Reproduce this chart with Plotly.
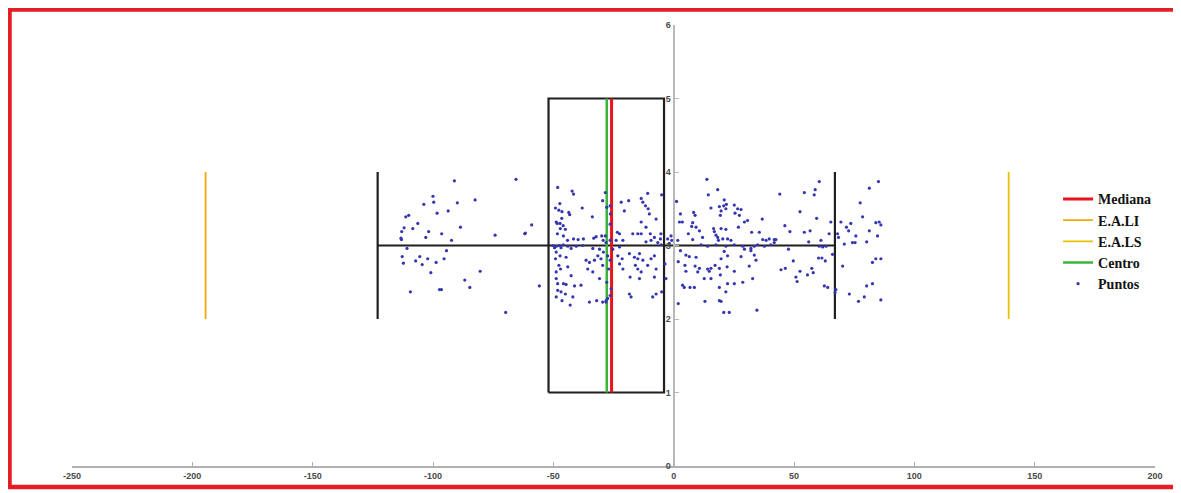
import plotly.graph_objects as go

# ---- summary statistics (data units) ----
box_left = -52.0      # Q1
box_right = -4.0      # Q3
box_bottom = 1.0
box_top = 5.0
whisker_low = -123.0
whisker_high = 67.0
whisker_y = 3.0
whisker_cap_low = 2.0
whisker_cap_high = 4.0
mediana = -25.8
centro = -27.8
eali = -194.5
eals = 139.2
fence_low = 2.0
fence_high = 4.0

# ---- points ----
puntos_x = [
    -91.1, -65.5, -100.0, -103.8, -99.7, -89.9, -82.5, -98.3, -93.7, -111.3, -110.1, -106.3,
    -112.0, -108.4, -113.0, -101.8, -88.6, -96.4, -103.0, -74.2, -61.9, -113.3, -113.1, -92.3,
    -110.8, -94.4, -112.8, -105.5, -112.3, -107.2, -104.5, -102.2, -98.7, -95.4, -100.9, -80.4,
    -86.8, -84.7, -109.4, -97.3, -96.5, -69.8,
    -59.0, -61.6, -55.8, -48.2, -42.2, -41.6, -47.3, -49.1, -47.7, -46.4, -43.6, -43.2, -38.0,
    -33.8, -48.8, -46.5, -48.4, -47.2, -45.9, -47.1, -45.0, -48.3, -45.8, -44.1, -41.6, -39.7,
    -37.5, -33.2, -32.2, -29.9, -29.3, -50.2, -49.5, -48.7, -47.5, -46.8, -45.9, -44.0, -42.6,
    -40.5, -37.8, -33.6, -30.8, -48.8, -47.2, -49.1, -47.7, -47.0, -48.8, -44.7, -44.0, -42.6,
    -36.4, -35.0, -35.7, -32.9, -33.6, -48.8, -48.2, -45.8, -44.7, -41.2, -38.5, -48.2, -46.8,
    -45.0, -41.9, -48.8, -46.4, -43.0, -35.0, -32.0, -29.5, -28.1, -30.8, -30.2, -29.5, -29.2,
    -31.5, -28.4, -29.5, -27.8, -26.4, -26.3, -26.4, -28.4, -28.1, -26.4, -25.3, -27.4, -26.4,
    -27.0, -27.8, -26.0, -26.4, -28.1, -27.4, -21.8, -18.7, -20.5, -23.4, -22.5, -23.9, -21.1,
    -22.5, -23.2, -21.4, -22.5, -21.1, -18.4, -16.3, -15.9, -18.1, -18.4, -17.7, -14.2, -13.5,
    -12.8, -11.7, -10.6, -10.8, -10.1, -7.3, -13.5, -11.5, -14.9, -17.0, -13.5, -9.7, -8.0,
    -11.5, -9.4, -6.6, -5.2, -14.2, -14.9, -12.8, -10.8, -9.4, -8.0, -7.3, -14.9, -13.5, -8.0,
    -7.3, -8.7,
    -5.0, -5.3, -5.5, -3.2, -3.6, -5.0, 13.8, 14.4, 18.3, 21.0, 21.9, 20.8, 15.5, 19.0, 19.7,
    19.4, 21.7, 25.2, 26.6, 28.0, 25.5, 27.3, 1.2, 2.8, 2.4, 3.6, 8.3, 8.9, 7.9, 7.5, 9.3, 10.7,
    6.1, 7.9, 12.0, 16.6, 16.9, 19.7, 21.7, 17.6, 18.3, 20.4, 18.6, 22.4, 23.8, 26.9, 29.4, 30.7,
    32.4, 35.6, 36.8, 37.0, 38.4, 39.7, 41.8, -1.1, -2.5, -0.8, -1.8, 1.7, 11.4, 14.1, 17.6,
    21.7, 25.2, 28.7, 32.1, 33.5, 34.9, 37.7, 40.4, 2.8, 5.1, 6.5, 9.3, 1.9, 4.7, 8.9, 10.7,
    14.1, 15.5, 17.2, 19.0, 19.7, 21.0, 22.4, 22.2, 25.2, 31.4, 28.0, 32.1, 33.5, 34.2, 29.4,
    5.1, 10.0, 14.8, 19.4, 15.5, 12.7, 19.0, 22.4, 25.2, 28.7, 32.8, 3.7, 4.4, 6.8, 8.6, 21.7,
    19.0, 19.7, 13.0, 1.9, 20.8, 23.1, 34.6,
    60.5, 85.1, 81.3, 44.1, 54.3, 58.8, 58.4, 77.5, 52.5, 59.4, 78.5, 65.3, 69.5, 73.6, 71.8,
    72.7, 84.0, 85.4, 86.1, 81.3, 46.2, 48.3, 54.3, 56.7, 64.6, 68.1, 68.5, 75.7, 84.7, 42.5,
    41.8, 56.1, 61.2, 70.9, 74.3, 75.4, 80.2, 60.5, 61.9, 63.3, 47.7, 66.0, 60.2, 61.6, 63.0,
    49.7, 84.0, 86.1, 82.6, 70.2, 44.6, 46.4, 52.5, 55.6, 57.4, 58.0, 50.8, 51.3, 62.6, 64.0,
    67.4, 67.1, 73.0, 80.2, 82.6, 76.8, 79.2, 86.1,
]
puntos_y = [
    3.88, 3.90, 3.67, 3.56, 3.59, 3.58, 3.62, 3.44, 3.47, 3.39, 3.41, 3.30,
    3.24, 3.23, 3.19, 3.19, 3.25, 3.16, 3.11, 3.14, 3.16, 3.10, 3.08, 3.07,
    2.96, 2.93, 2.85, 2.85, 2.76, 2.79, 2.74, 2.82, 2.77, 2.82, 2.63, 2.65,
    2.53, 2.43, 2.37, 2.40, 2.40, 2.09,
    3.28, 3.17, 2.45, 3.79, 3.74, 3.70, 3.57, 3.51, 3.48, 3.46, 3.45, 3.42, 3.51,
    3.39, 3.32, 3.37, 3.30, 3.30, 3.27, 3.23, 3.22, 3.16, 3.13, 3.07, 3.09, 3.08,
    3.09, 3.10, 3.12, 3.13, 3.07, 3.00, 2.97, 2.99, 3.00, 2.97, 3.01, 2.99, 2.96,
    2.99, 3.00, 2.96, 2.95, 2.91, 2.86, 2.82, 2.73, 2.68, 2.64, 2.84, 2.71, 2.59,
    2.80, 2.77, 2.68, 2.80, 2.64, 2.55, 2.48, 2.48, 2.47, 2.45, 2.46, 2.39, 2.37,
    2.34, 2.30, 2.30, 2.25, 2.19, 2.23, 2.25, 2.23, 2.25, 2.55, 2.82, 2.73, 2.91,
    2.86, 3.72, 3.61, 3.52, 3.54, 3.43, 3.29, 3.13, 3.04, 3.07, 2.95, 2.86, 2.80,
    2.68, 2.50, 2.41, 2.32, 2.23, 2.28, 3.59, 3.61, 3.47, 3.18, 3.16, 3.07, 3.07,
    2.98, 2.86, 2.82, 2.75, 2.68, 2.89, 2.84, 2.73, 2.57, 2.34, 2.30, 2.55, 3.64,
    3.59, 3.54, 3.50, 3.71, 3.43, 3.36, 3.32, 3.25, 3.16, 3.16, 3.16, 3.16, 3.11,
    3.05, 3.07, 3.04, 3.01, 2.89, 2.82, 2.80, 2.73, 2.82, 2.86, 2.68, 2.68, 2.64, 2.57,
    2.34, 2.30,
    3.69, 3.16, 3.09, 2.55, 2.75, 2.37, 3.90, 3.69, 3.76, 3.62, 3.56, 3.54, 3.51, 3.53, 3.47,
    3.41, 3.50, 3.55, 3.50, 3.49, 3.44, 3.41, 3.60, 3.43, 3.32, 3.32, 3.45, 3.41, 3.31, 3.26, 3.25, 3.20,
    3.16, 3.08, 3.11, 3.23, 3.19, 3.23, 3.22, 3.14, 3.11, 3.09, 3.07, 3.09, 3.07, 3.25, 3.32, 3.34,
    3.18, 3.18, 3.36, 3.08, 3.07, 3.09, 3.08, 3.13, 3.09, 3.07, 3.03, 3.07, 3.01, 2.99, 3.01,
    2.99, 3.01, 2.99, 2.96, 2.99, 3.01, 2.99, 3.01, 2.93, 2.87, 2.85, 2.84, 2.78, 2.73, 2.72, 2.69,
    2.68, 2.69, 2.73, 2.69, 2.82, 2.92, 2.86, 2.71, 2.65, 2.72, 2.85, 2.93, 2.87, 2.80, 2.95,
    2.65, 2.64, 2.65, 2.60, 2.55, 2.55, 2.43, 2.48, 2.48, 2.50, 2.55, 2.46, 2.43, 2.43, 2.43, 2.37,
    2.25, 2.24, 2.24, 2.21, 2.09, 2.09, 2.12,
    3.87, 3.87, 3.78, 3.70, 3.72, 3.76, 3.69, 3.58, 3.46, 3.37, 3.39, 3.32, 3.32, 3.30, 3.25,
    3.20, 3.31, 3.32, 3.28, 3.20, 3.27, 3.19, 3.18, 3.20, 3.16, 3.16, 3.11, 3.13, 3.13, 3.08,
    3.04, 3.05, 3.07, 3.02, 3.04, 3.04, 3.05, 2.99, 2.98, 2.99, 2.95, 2.88, 2.83, 2.83, 2.79,
    2.79, 2.82, 2.82, 2.77, 2.72, 2.67, 2.69, 2.65, 2.60, 2.69, 2.63, 2.57, 2.51, 2.45, 2.43,
    2.40, 2.36, 2.34, 2.45, 2.48, 2.24, 2.30, 2.26,
]

x_ticks = [-250, -200, -150, -100, -50, 0, 50, 100, 150, 200]
y_ticks = [0, 1, 2, 3, 4, 5, 6]

fig = go.Figure()

BLACK = "#1f1f1f"

# Box (no legend)
fig.add_trace(go.Scatter(
    x=[box_left, box_right, box_right, box_left, box_left],
    y=[box_bottom, box_bottom, box_top, box_top, box_bottom],
    mode="lines", line=dict(color=BLACK, width=2.2), showlegend=False, hoverinfo="skip"))
# Whisker horizontal
fig.add_trace(go.Scatter(
    x=[whisker_low, whisker_high], y=[whisker_y, whisker_y],
    mode="lines", line=dict(color=BLACK, width=2.2), showlegend=False, hoverinfo="skip"))
# Whisker caps
fig.add_trace(go.Scatter(
    x=[whisker_low, whisker_low, None, whisker_high, whisker_high],
    y=[whisker_cap_low, whisker_cap_high, None, whisker_cap_low, whisker_cap_high],
    mode="lines", line=dict(color=BLACK, width=2.2), showlegend=False, hoverinfo="skip"))

pts = go.Scatter(x=puntos_x, y=puntos_y, mode="markers", name="Puntos",
                 marker=dict(color="#3535b0", size=3.2), showlegend=True)

fig.add_trace(go.Scatter(x=[mediana, mediana], y=[box_bottom, box_top], mode="lines",
                         name="Mediana", line=dict(color="#e8141c", width=3)))
fig.add_trace(go.Scatter(x=[eali, eali], y=[fence_low, fence_high], mode="lines",
                         name="E.A.LI", line=dict(color="#f0aa00", width=1.8)))
fig.add_trace(go.Scatter(x=[eals, eals], y=[fence_low, fence_high], mode="lines",
                         name="E.A.LS", line=dict(color="#e9c100", width=1.8)))
fig.add_trace(go.Scatter(x=[centro, centro], y=[box_bottom, box_top], mode="lines",
                         name="Centro", line=dict(color="#3cb43c", width=2.5)))
fig.add_trace(pts)

y_pos = (0 - (-250)) / (200 - (-250))

tick_font = dict(family="Liberation Sans, Arial", size=9, color="#4a4a4a", weight="bold")

fig.update_layout(
    width=1173, height=485,
    margin=dict(l=64, r=26, t=17, b=25),
    paper_bgcolor="white", plot_bgcolor="white",
    showlegend=True,
    legend=dict(x=0.9105, y=0.641, xanchor="left", yanchor="top",
                font=dict(family="Liberation Serif, Times New Roman, serif", size=14,
                          color="#111", weight="bold"),
                bgcolor="rgba(0,0,0,0)", tracegroupgap=0, itemwidth=30),
    xaxis=dict(range=[-250, 200], tickvals=x_ticks, ticktext=[str(v) for v in x_ticks],
               showgrid=False, zeroline=False, showline=True, linecolor="#b0b0b0", linewidth=1.5,
               ticks="inside", ticklen=4, tickcolor="#b0b0b0", tickfont=tick_font),
    yaxis=dict(range=[0, 6], tickvals=y_ticks, ticktext=[str(v) for v in y_ticks],
               showgrid=False, zeroline=False, showline=True, linecolor="#b8b8b8", linewidth=2,
               ticks="inside", ticklen=4, tickcolor="#b8b8b8",
               anchor="free", position=y_pos, tickfont=tick_font),
    shapes=[dict(type="rect", xref="paper", yref="paper",
                 x0=-0.0577, x1=1.0199, y0=-0.0474, y1=1.035,
                 line=dict(color="#e31e24", width=4.5), fillcolor="rgba(0,0,0,0)", layer="above")],
)

fig.write_html("out.html")
